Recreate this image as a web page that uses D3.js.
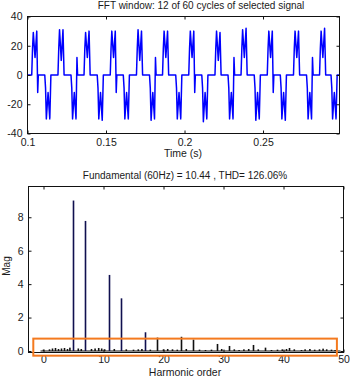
<!DOCTYPE html>
<html>
<head>
<meta charset="utf-8">
<script src="https://cdn.jsdelivr.net/npm/d3@7"></script>
<style>
  html, body { margin: 0; padding: 0; background: #fff; }
  svg { display: block; }
  text { font-family: "Liberation Sans", Arial, Helvetica, sans-serif; fill: #1a1a1a; }
</style>
</head>
<body>
<svg id="chart" width="350" height="379"></svg>
<script>
// ---- Signal window: time (s) and amplitude ----
const waveform = [
  [0.1000,0],
  [0.1027,0],[0.1032,18],[0.1037,29],[0.1048,12],[0.1059,30],[0.1065,-12],[0.1069,0],
  [0.1110,0],[0.1115,-9],[0.1120,-30],[0.1131,-12],[0.1142,-30],[0.1149,0],
  [0.1194,0],[0.1199,18],[0.1204,31],[0.1215,10],[0.1226,31],[0.1233,0],
  [0.1277,0],[0.1282,-9],[0.1287,-30],[0.1298,-12],[0.1309,-30],[0.1315,12],[0.1319,0],
  [0.1360,0],[0.1365,18],[0.1370,29],[0.1381,12],[0.1392,30],[0.1399,0],
  [0.1444,0],[0.1449,-9],[0.1454,-30],[0.1465,-12],[0.1476,-31],[0.1483,0],
  [0.1527,0],[0.1532,18],[0.1537,30],[0.1548,12],[0.1559,30],[0.1565,-12],[0.1569,0],
  [0.1610,0],[0.1615,-9],[0.1620,-30],[0.1631,-12],[0.1642,-30],[0.1649,0],
  [0.1694,0],[0.1699,18],[0.1704,31],[0.1715,10],[0.1726,30],[0.1733,0],
  [0.1777,0],[0.1782,-9],[0.1787,-31],[0.1798,-12],[0.1809,-30],[0.1815,12],[0.1819,0],
  [0.1860,0],[0.1865,18],[0.1870,30],[0.1881,12],[0.1892,30],[0.1899,0],
  [0.1944,0],[0.1949,-9],[0.1954,-30],[0.1965,-12],[0.1976,-30],[0.1983,0],
  [0.2027,0],[0.2032,18],[0.2037,30],[0.2048,12],[0.2059,30],[0.2065,-12],[0.2069,0],
  [0.2110,0],[0.2115,-9],[0.2120,-32],[0.2131,-12],[0.2142,-30],[0.2149,0],
  [0.2194,0],[0.2199,18],[0.2204,30],[0.2215,10],[0.2226,29],[0.2233,0],
  [0.2277,0],[0.2282,-9],[0.2287,-30],[0.2298,-12],[0.2309,-30],[0.2315,12],[0.2319,0],
  [0.2360,0],[0.2365,18],[0.2370,31],[0.2381,12],[0.2392,32],[0.2399,0],
  [0.2444,0],[0.2449,-9],[0.2454,-31],[0.2465,-12],[0.2476,-30],[0.2483,0],
  [0.2527,0],[0.2532,18],[0.2537,30],[0.2548,12],[0.2559,30],[0.2565,-12],[0.2569,0],
  [0.2610,0],[0.2615,-9],[0.2620,-30],[0.2631,-12],[0.2642,-31],[0.2649,0],
  [0.2694,0],[0.2699,18],[0.2704,30],[0.2715,12],[0.2726,30],[0.2733,0],
  [0.2777,0],[0.2782,-9],[0.2787,-30],[0.2798,-12],[0.2809,-30],[0.2815,12],[0.2819,0],
  [0.2860,0],[0.2865,18],[0.2870,30],[0.2881,12],[0.2892,32],[0.2899,0],
  [0.2933,0],[0.2938,-9],[0.2943,-30],[0.2954,-12],[0.2965,-30],[0.2972,0],
  [0.2985,0]
];
const timeDomain = [0.1, 0.2987];
const signalDomain = [-40, 40];
const timeTicks = [0.1, 0.15, 0.2, 0.25];
const timeTickLabels = ["0.1", "0.15", "0.2", "0.25"];
const signalTicks = [-40, -20, 0, 20, 40];
const signalTickLabels = ["-40", "-20", "0", "20", "40"];

// ---- Harmonic spectrum: order and magnitude ----
const harmonicOrder = [
  0, 1, 1.5, 2, 2.5, 3, 3.5, 4, 4.4, 5, 5.8, 6.3, 7, 8, 8.6, 9.2, 9.7, 10.2,
  11, 11.8, 13, 13.8, 15, 15.8, 16.4, 17, 17.8, 19, 20, 20.7, 21.5, 22.3, 23,
  23.8, 25, 26, 27, 28, 29, 29.7, 31, 31.8, 32.6, 33.4, 34.2, 35, 35.8, 37, 38,
  39, 39.8, 40.5, 41, 41.8, 43, 43.6, 44.4, 45.2, 46, 46.6, 47.2, 48, 48.6
];
const harmonicMag = [
  0.08, 0.10, 0.15, 0.18, 0.12, 0.15, 0.18, 0.12, 0.20, 9.00, 0.15, 0.12, 7.78,
  0.12, 0.15, 0.18, 0.15, 0.10, 4.55, 0.12, 3.15, 0.10, 0.08, 0.10, 0.12, 1.12,
  0.08, 0.80, 0.10, 0.12, 0.10, 0.08, 0.85, 0.12, 0.68, 0.08, 0.06, 0.08, 0.42,
  0.12, 0.30, 0.10, 0.06, 0.10, 0.12, 0.36, 0.10, 0.20, 0.06, 0.08, 0.10, 0.12,
  0.18, 0.10, 0.06, 0.10, 0.12, 0.08, 0.10, 0.14, 0.10, 0.08, 0.06
];
const orderDomain = [-2.5, 50];
const magDomain = [-0.09, 9.84];
const orderTicks = [0, 10, 20, 30, 40, 50];
const magTicks = [0, 2, 4, 6, 8];

// Highlight box around the low-magnitude band (order, magnitude corners)
const highlightOrder = [-1.7, 48.9];
const highlightMag = [-0.28, 0.74];

const svg = d3.select("#chart");
svg.append("rect").attr("width", 350).attr("height", 379).attr("fill", "#fff");

// Draws a MATLAB-style boxed axes with inward ticks on all four sides
function boxedAxes(g, x, y, xt, xl, yt, yl, xPad) {
  const [x0, x1] = x.range();
  const [y0, y1] = y.range();
  const tick = 3;
  const xAxisB = d3.axisBottom(x).tickValues(xt).tickFormat((d, i) => xl[i]).tickSizeInner(-tick).tickSizeOuter(0).tickPadding(xPad);
  const xAxisT = d3.axisTop(x).tickValues(xt).tickFormat("").tickSizeInner(-tick).tickSizeOuter(0);
  const yAxisL = d3.axisLeft(y).tickValues(yt).tickFormat((d, i) => yl[i]).tickSizeInner(-tick).tickSizeOuter(0).tickPadding(5);
  const yAxisR = d3.axisRight(y).tickValues(yt).tickFormat("").tickSizeInner(-tick).tickSizeOuter(0);
  const styleAxis = sel => {
    sel.select(".domain").remove();
    sel.selectAll("line").attr("stroke", "#111").attr("stroke-width", 1);
    sel.selectAll("text").attr("font-size", 10.5).attr("fill", "#1a1a1a")
      .attr("font-family", '"Liberation Sans", Arial, sans-serif');
  };
  g.append("g").attr("transform", `translate(0,${y0})`).call(xAxisB).call(styleAxis);
  g.append("g").attr("transform", `translate(0,${y1})`).call(xAxisT).call(styleAxis);
  g.append("g").attr("transform", `translate(${x0},0)`).call(yAxisL).call(styleAxis);
  g.append("g").attr("transform", `translate(${x1},0)`).call(yAxisR).call(styleAxis);
  g.append("rect").attr("x", x0).attr("y", y1).attr("width", x1 - x0).attr("height", y0 - y1)
    .attr("fill", "none").attr("stroke", "#111").attr("stroke-width", 1);
}

// ---- Top panel: time-domain signal ----
const xT = d3.scaleLinear().domain(timeDomain).range([27.5, 339.5]);
const yT = d3.scaleLinear().domain(signalDomain).range([133.5, 16.5]);
const topPanel = svg.append("g");
topPanel.append("clipPath").attr("id", "clipTop").append("rect")
  .attr("x", 27.5).attr("y", 16.5).attr("width", 312).attr("height", 117);
topPanel.append("path")
  .datum(waveform)
  .attr("clip-path", "url(#clipTop)")
  .attr("fill", "none")
  .attr("stroke", "#0000ff")
  .attr("stroke-width", 1.5)
  .attr("stroke-linejoin", "round")
  .attr("d", d3.line().x(d => xT(d[0])).y(d => yT(d[1])));
boxedAxes(topPanel, xT, yT, timeTicks, timeTickLabels, signalTicks, signalTickLabels, 5);
topPanel.append("text").attr("x", 201).attr("y", 9).attr("text-anchor", "middle")
  .attr("font-size", 10).text("FFT window: 12 of 60 cycles of selected signal");
topPanel.append("text").attr("x", 183).attr("y", 157).attr("text-anchor", "middle")
  .attr("font-size", 10.5).text("Time (s)");

// ---- Bottom panel: harmonic spectrum ----
const xB = d3.scaleLinear().domain(orderDomain).range([28.5, 343.5]);
const yB = d3.scaleLinear().domain(magDomain).range([352.5, 186.5]);
const bottomPanel = svg.append("g");
const spectrum = harmonicOrder.map((h, i) => ({ h, m: harmonicMag[i] }));
bottomPanel.append("line")
  .attr("x1", xB(-0.5)).attr("x2", xB(49.5))
  .attr("y1", yB(0)).attr("y2", yB(0))
  .attr("stroke", "#111").attr("stroke-width", 1.2);
bottomPanel.selectAll("rect.bar").data(spectrum).join("rect")
  .attr("class", "bar")
  .attr("x", d => xB(d.h) - 0.8)
  .attr("width", 1.6)
  .attr("y", d => yB(d.m))
  .attr("height", d => yB(0) - yB(d.m))
  .attr("fill", d => d.m > 1 ? "#10104f" : "#111");
boxedAxes(bottomPanel, xB, yB, orderTicks, orderTicks.map(String), magTicks, magTicks.map(String), 3.5);
bottomPanel.append("rect")
  .attr("x", xB(highlightOrder[0])).attr("y", yB(highlightMag[1]))
  .attr("width", xB(highlightOrder[1]) - xB(highlightOrder[0]))
  .attr("height", yB(highlightMag[0]) - yB(highlightMag[1]))
  .attr("fill", "none").attr("stroke", "#f47a1f").attr("stroke-width", 2);
bottomPanel.append("text").attr("x", 185).attr("y", 179).attr("text-anchor", "middle")
  .attr("font-size", 10).text("Fundamental (60Hz) = 10.44 , THD= 126.06%");
bottomPanel.append("text").attr("x", 185).attr("y", 376).attr("text-anchor", "middle")
  .attr("font-size", 10.5).text("Harmonic order");
bottomPanel.append("text").attr("transform", "translate(9.5,266) rotate(-90)").attr("text-anchor", "middle")
  .attr("font-size", 10).text("Mag");
</script>
</body>
</html>
